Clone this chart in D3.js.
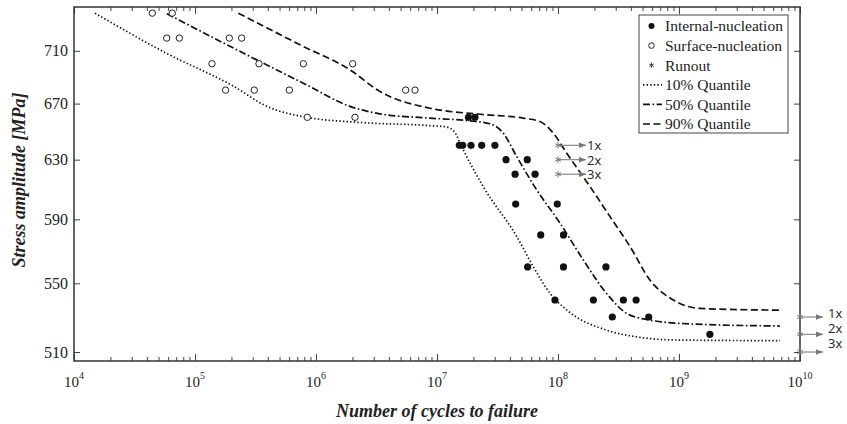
<!DOCTYPE html>
<html>
<head>
<meta charset="utf-8">
<script src="https://cdn.jsdelivr.net/npm/d3@7"></script>
<style>
  body { margin: 0; background: #fff; }
  svg text { font-family: "Liberation Serif", "Times New Roman", serif; fill: #222; }
</style>
</head>
<body>
<svg id="chart" width="847" height="424"></svg>
<script>
// surface-nucleation failures (open circles)
var surfN = [4.44e4, 6.49e4, 5.84e4, 7.42e4, 1.38e5, 1.79e5, 1.92e5, 2.43e5, 3.09e5,
             3.38e5, 6.02e5, 7.86e5, 8.48e5, 2.01e6, 2.10e6, 5.51e6, 6.58e6];
var surfS = [740, 740, 720, 720, 700, 680, 720, 720, 680,
             700, 680, 700, 660, 700, 660, 680, 680];

// internal-nucleation failures (filled circles)
var intN = [1.53e7, 1.63e7, 1.91e7, 2.34e7, 3.01e7, 1.82e7, 2.06e7, 3.72e7, 5.57e7,
            4.42e7, 6.46e7, 4.47e7, 9.86e7, 7.20e7, 1.11e8, 5.61e7, 1.11e8, 2.49e8,
            9.44e7, 1.96e8, 3.47e8, 4.42e8, 2.81e8, 5.62e8, 1.80e9];
var intS = [640, 640, 640, 640, 640, 660, 660, 630, 630,
            620, 620, 600, 600, 580, 580, 560, 560, 560,
            540, 540, 540, 540, 530, 530, 520];

// runouts
var runN = [1e8, 1e8, 1e8, 1e10, 1e10, 1e10];
var runS = [640, 630, 620, 530, 520, 510];
var runLabels = ['1x', '2x', '3x', '1x', '2x', '3x'];

// quantile curves
var q10N = [1.49e4, 5.83e4, 2.07e5, 3.92e5, 8.38e5, 2.62e6, 8.75e6, 1.20e7, 1.41e7, 1.55e7,
            2.41e7, 4.56e7, 6.26e7, 8.59e7, 1.21e8, 2.52e8, 4.76e8, 8.97e8, 6.84e9];
var q10S = [740, 708, 683, 668, 660, 656, 654, 653, 649, 641.5,
            611.6, 579, 560, 544, 533.5, 522.4, 518.3, 516.8, 516.4];
var q50N = [5.84e4, 3.03e5, 7.85e5, 1.91e6, 3.38e6, 8.75e6, 1.88e7, 2.74e7, 3.53e7,
            4.56e7, 6.67e7, 1.04e8, 1.62e8, 2.52e8, 3.70e8, 5.75e8, 1.23e9, 6.84e9];
var q50S = [739.5, 704.3, 685.2, 668, 662.5, 659.4, 657.4, 655.3, 648.6,
            632.1, 609.4, 587.5, 564.2, 543.9, 532.1, 528.2, 526, 524.8];
var q90N = [2.28e5, 7.38e5, 1.91e6, 3.38e6, 8.75e6, 2.27e7, 5.16e7, 7.10e7, 9.14e7,
            1.18e8, 1.84e8, 2.69e8, 3.94e8, 5.75e8, 8.97e8, 1.49e9, 6.84e9];
var q90S = [740, 714.7, 695.3, 678.9, 666.6, 662.2, 659.4, 656.9, 648.6,
            634.5, 611.6, 591.8, 572.6, 552, 540, 535, 534];

var xExponents = [4, 5, 6, 7, 8, 9, 10];
var yTicks = [510, 550, 590, 630, 670, 710];
var legendLabels = ['Internal-nucleation', 'Surface-nucleation', 'Runout',
                    '10% Quantile', '50% Quantile', '90% Quantile'];

var margin = {top: 7, right: 47, bottom: 63, left: 74};
var svg = d3.select('#chart');
var width = 847 - margin.left - margin.right,
    height = 424 - margin.top - margin.bottom;

var x = d3.scaleLog().domain([1e4, 1e10]).range([0, width]);
var y = d3.scaleLog().domain([505, 745]).range([height, 0]);

var g = svg.append('g')
    .attr('transform', 'translate(' + margin.left + ',' + margin.top + ')');

var defs = svg.append('defs');
defs.append('marker').attr('id', 'arr')
    .attr('viewBox', '0 0 10 10').attr('refX', 10).attr('refY', 5)
    .attr('markerWidth', 6).attr('markerHeight', 6).attr('orient', 'auto')
    .append('path').attr('d', 'M0,1L10,5L0,9Z').attr('fill', '#777');

// axes: inside ticks on all four sides
var majors = xExponents.map(function(e) { return Math.pow(10, e); });
var minors = x.ticks().filter(function(t) { return majors.indexOf(t) < 0; });

function styleAxis(sel) {
    sel.select('.domain').remove();
    sel.attr('font-family', '"Liberation Serif", serif');
    sel.selectAll('line').attr('stroke', '#444').attr('stroke-width', 1);
}

g.append('g').attr('transform', 'translate(0,' + height + ')')
    .call(d3.axisBottom(x).tickValues(minors).tickSize(-4).tickFormat(''))
    .call(styleAxis);
g.append('g').attr('transform', 'translate(0,' + height + ')')
    .call(d3.axisBottom(x).tickValues(majors).tickSize(-7).tickFormat(''))
    .call(styleAxis);
g.append('g')
    .call(d3.axisTop(x).tickValues(minors).tickSize(-4).tickFormat(''))
    .call(styleAxis);
g.append('g')
    .call(d3.axisTop(x).tickValues(majors).tickSize(-7).tickFormat(''))
    .call(styleAxis);

var yAxisG = g.append('g')
    .call(d3.axisLeft(y).tickValues(yTicks).tickSize(-6).tickPadding(6).tickFormat(d3.format('d')))
    .call(styleAxis);
yAxisG.selectAll('text')
    .style('font-family', '"Liberation Serif", serif')
    .style('font-size', '16px').attr('fill', '#222');

g.append('g').attr('transform', 'translate(' + width + ',0)')
    .call(d3.axisRight(y).tickValues(yTicks).tickSize(-6).tickFormat(''))
    .call(styleAxis);

// x tick labels as 10^k
var xl = g.append('g').selectAll('text.xl').data(xExponents).enter()
    .append('text').attr('class', 'xl')
    .attr('x', function(d) { return x(Math.pow(10, d)); })
    .attr('y', height + 26)
    .attr('text-anchor', 'middle')
    .style('font-size', '15px');
xl.append('tspan').text('10');
xl.append('tspan').attr('dy', -8).style('font-size', '10px').text(function(d) { return d; });

// frame
g.append('rect').attr('width', width).attr('height', height)
    .attr('fill', 'none').attr('stroke', '#333').attr('stroke-width', 1.5);

// quantile lines
var line = d3.line()
    .x(function(d) { return x(d[0]); })
    .y(function(d) { return y(d[1]); })
    .curve(d3.curveMonotoneX);

var quantiles = [
    {n: q10N, s: q10S, dash: '1.4,2.2'},
    {n: q50N, s: q50S, dash: '7,2.5,1.6,2.5'},
    {n: q90N, s: q90S, dash: '7,3.5'}
];
quantiles.forEach(function(q) {
    g.append('path')
        .datum(d3.zip(q.n, q.s))
        .attr('d', line)
        .attr('fill', 'none')
        .attr('stroke', '#111')
        .attr('stroke-width', 1.7)
        .attr('stroke-dasharray', q.dash);
});

// surface-nucleation points
g.selectAll('.surf').data(d3.zip(surfN, surfS)).enter()
    .append('circle').classed('surf', true)
    .attr('cx', function(d) { return x(d[0]); })
    .attr('cy', function(d) { return y(d[1]); })
    .attr('r', 3.2)
    .attr('fill', '#fff').attr('stroke', '#222').attr('stroke-width', 1);

// internal-nucleation points
g.selectAll('.int').data(d3.zip(intN, intS)).enter()
    .append('circle').classed('int', true)
    .attr('cx', function(d) { return x(d[0]); })
    .attr('cy', function(d) { return y(d[1]); })
    .attr('r', 3.6)
    .attr('fill', '#111');

// runouts with arrows
var star = d3.symbol().type(d3.symbolAsterisk).size(30);
var runData = d3.zip(runN, runS, runLabels);
runData.forEach(function(d, i) {
    var px = x(d[0]), py = y(d[1]);
    var edge = d[0] >= 1e10;
    var len = edge ? 23 : 28;
    g.append('line')
        .attr('x1', px).attr('y1', py).attr('x2', px + len).attr('y2', py)
        .attr('stroke', '#888').attr('stroke-width', 1.2)
        .attr('marker-end', 'url(#arr)');
    g.append('path').attr('d', star)
        .attr('transform', 'translate(' + px + ',' + py + ')')
        .attr('fill', 'none').attr('stroke', '#777').attr('stroke-width', 1);
    var j = i % 3;
    g.append('text')
        .attr('x', px + len + (edge ? 5 : 1))
        .attr('y', edge ? py - 4 - j * 2.5 : py)
        .attr('dominant-baseline', 'central')
        .style('font-family', '"Open Sans", "DejaVu Sans", sans-serif')
        .style('font-size', '13px')
        .text(d[2]);
});

// legend
var leg = svg.append('g').attr('transform', 'translate(639,15)');
leg.append('rect').attr('width', 149).attr('height', 118)
    .attr('fill', '#fff').attr('stroke', '#444').attr('stroke-width', 1);
var items = leg.selectAll('.item').data(legendLabels).enter()
    .append('g').classed('item', true)
    .attr('transform', function(d, i) { return 'translate(0,' + (11 + i * 19.6) + ')'; });
items.append('text').attr('x', 26).attr('dy', '0.35em')
    .style('font-size', '15.5px').text(function(d) { return d; });
items.each(function(d, i) {
    var it = d3.select(this);
    if (i === 0) {
        it.append('circle').attr('cx', 12.5).attr('r', 3).attr('fill', '#111');
    } else if (i === 1) {
        it.append('circle').attr('cx', 12.5).attr('r', 2.8)
            .attr('fill', '#fff').attr('stroke', '#222').attr('stroke-width', 1);
    } else if (i === 2) {
        it.append('path').attr('d', d3.symbol().type(d3.symbolAsterisk).size(20))
            .attr('transform', 'translate(12.5,0)')
            .attr('fill', 'none').attr('stroke', '#444').attr('stroke-width', 1);
    } else {
        it.append('line').attr('x1', 4).attr('x2', 23)
            .attr('stroke', '#111').attr('stroke-width', 1.7)
            .attr('stroke-dasharray', quantiles[i - 3].dash);
    }
});

// axis titles
svg.append('text')
    .attr('x', 437).attr('y', 417)
    .attr('text-anchor', 'middle')
    .style('font-size', '18px').style('font-weight', 'bold').style('font-style', 'italic')
    .text('Number of cycles to failure');
svg.append('text')
    .attr('transform', 'translate(25,180) rotate(-90)')
    .attr('text-anchor', 'middle')
    .style('font-size', '18px').style('font-weight', 'bold').style('font-style', 'italic')
    .text('Stress amplitude [MPa]');
</script>
</body>
</html>
